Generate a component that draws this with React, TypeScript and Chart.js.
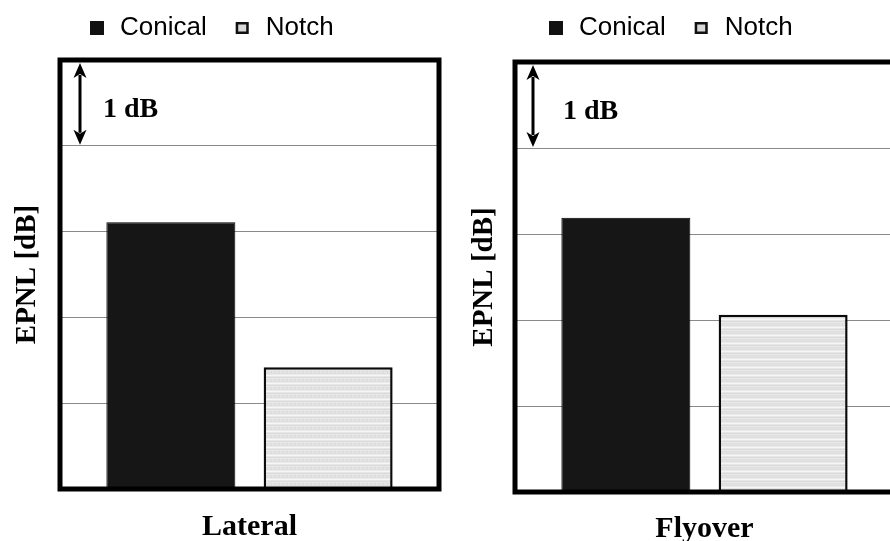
import React, { useEffect, useRef } from "react";
import { Chart, registerables } from "chart.js";

Chart.register(...registerables);

// Series and categories
const seriesNames = ["Conical", "Notch"];
const lateralLabels = ["Lateral"];
const flyoverLabels = ["Flyover"];
const lateralConical = [3.11];
const lateralNotch = [1.42];
const flyoverConical = [3.19];
const flyoverNotch = [2.06];

// Axis settings (relative EPNL, 1 dB per gridline)
const yAxisTitle = "EPNL [dB]";
const scaleNote = "1 dB";
const yMin = 0;
const yMax = 5;
const yStep = 1;

const SERIF = '"Liberation Serif", "Times New Roman", serif';
const SANS = '"Liberation Sans", Arial, sans-serif';

const CANVAS_W = 450;
const CANVAS_H = 566;

// Light grey screened fill with faint horizontal banding
function makeStripePattern(ctx: CanvasRenderingContext2D): CanvasPattern | string {
  const tile = document.createElement("canvas");
  tile.width = 4;
  tile.height = 8;
  const t = tile.getContext("2d");
  if (!t) return "#e2e2e2";
  const rows = ["#e6e6e6", "#dddddd", "#e8e8e8", "#dfdfdf", "#e7e7e7", "#dedede", "#ebebeb", "#f6f6f6"];
  rows.forEach((c, i) => {
    t.fillStyle = c;
    t.fillRect(0, i, 4, 1);
  });
  t.fillStyle = "#d6d6d6";
  t.fillRect(1, 1, 1, 1);
  t.fillRect(3, 4, 1, 1);
  return ctx.createPattern(tile, "repeat") || "#e2e2e2";
}

// Legend row drawn above the plot frame
const panelLegend = {
  id: "panelLegend",
  afterDraw(chart: any, _args: any, opts: any) {
    const ctx: CanvasRenderingContext2D = chart.ctx;
    ctx.save();
    ctx.font = `${opts.fontSize}px ${SANS}`;
    ctx.textBaseline = "middle";
    ctx.textAlign = "left";
    let x = opts.x;
    chart.data.datasets.forEach((ds: any, i: number) => {
      const s = opts.box;
      const top = opts.y - s / 2;
      if (i === 0) {
        ctx.fillStyle = "#111";
        ctx.fillRect(x, top, s, s);
      } else {
        ctx.fillStyle = "#d8d8d8";
        ctx.fillRect(x, top + 1, s - 1, s - 2);
        ctx.lineWidth = 2.5;
        ctx.strokeStyle = "#111";
        ctx.strokeRect(x + 1.25, top + 2.25, s - 3.5, s - 4.5);
      }
      x += s + opts.gap;
      ctx.fillStyle = "#000";
      ctx.fillText(ds.label, x, opts.y);
      x += ctx.measureText(ds.label).width + opts.itemGap;
    });
    ctx.restore();
  },
};

// Heavy frame around the plot area
const plotFrame = {
  id: "plotFrame",
  afterDatasetsDraw(chart: any) {
    const { ctx, chartArea } = chart;
    ctx.save();
    ctx.strokeStyle = "#000";
    ctx.lineWidth = 5;
    ctx.strokeRect(chartArea.left, chartArea.top, chartArea.right - chartArea.left, chartArea.bottom - chartArea.top);
    ctx.restore();
  },
};

// Double-headed arrow spanning one gridline step, with its label
const stepMarker = {
  id: "stepMarker",
  afterDraw(chart: any, _args: any, opts: any) {
    const { ctx, chartArea } = chart;
    const yScale = chart.scales.y;
    const yTop = yScale.getPixelForValue(yMax) + 3;
    const yBot = yScale.getPixelForValue(yMax - yStep) - 1;
    const x = chartArea.left + opts.dx;
    const head = 15;
    const half = 6.5;
    ctx.save();
    ctx.strokeStyle = "#000";
    ctx.fillStyle = "#000";
    ctx.lineWidth = 3;
    ctx.beginPath();
    ctx.moveTo(x, yTop + head - 3);
    ctx.lineTo(x, yBot - head + 3);
    ctx.stroke();
    ctx.beginPath();
    ctx.moveTo(x, yTop);
    ctx.lineTo(x - half, yTop + head);
    ctx.lineTo(x, yTop + head - 4);
    ctx.lineTo(x + half, yTop + head);
    ctx.closePath();
    ctx.fill();
    ctx.beginPath();
    ctx.moveTo(x, yBot);
    ctx.lineTo(x - half, yBot - head);
    ctx.lineTo(x, yBot - head + 4);
    ctx.lineTo(x + half, yBot - head);
    ctx.closePath();
    ctx.fill();
    ctx.font = `bold ${opts.fontSize}px ${SERIF}`;
    ctx.textBaseline = "middle";
    ctx.textAlign = "left";
    ctx.fillText(scaleNote, chartArea.left + opts.textDx, (yTop + yBot) / 2 + 6);
    ctx.restore();
  },
};

type PanelProps = {
  labels: string[];
  conical: number[];
  notch: number[];
  left: number;
  padTop: number;
  padLeft: number;
  padBottom: number;
  tickPad: number;
  titlePadTop: number;
  titlePadBottom: number;
  legendX: number;
  markDx: number;
  noteDx: number;
};

function Panel(p: PanelProps) {
  const ref = useRef<HTMLCanvasElement>(null);

  useEffect(() => {
    const canvas = ref.current;
    if (!canvas) return;
    const ctx = canvas.getContext("2d");
    if (!ctx) return;
    const screen = makeStripePattern(ctx);

    const chart = new Chart(canvas, {
      type: "bar",
      data: {
        labels: p.labels,
        datasets: [
          {
            label: seriesNames[0],
            data: p.conical,
            backgroundColor: "#161616",
            borderColor: "#000",
            borderWidth: 1,
            categoryPercentage: 0.83,
            barPercentage: 0.82,
          },
          {
            label: seriesNames[1],
            data: p.notch,
            backgroundColor: screen as any,
            borderColor: "#0a0a0a",
            borderWidth: 2.5,
            categoryPercentage: 0.83,
            barPercentage: 0.82,
          },
        ],
      },
      options: {
        responsive: false,
        animation: false,
        devicePixelRatio: 1,
        layout: { padding: { top: p.padTop, left: p.padLeft, right: 11, bottom: p.padBottom } },
        plugins: {
          legend: { display: false },
          tooltip: { enabled: false },
          panelLegend: { x: p.legendX, y: 28, box: 14, gap: 16, itemGap: 29, fontSize: 26 },
          stepMarker: { dx: p.markDx, textDx: p.noteDx, fontSize: 28 },
        } as any,
        scales: {
          x: {
            grid: { display: false, drawTicks: false },
            border: { display: false },
            ticks: {
              color: "#000",
              padding: p.tickPad,
              font: { family: SERIF, size: 30, weight: "bold", lineHeight: 1 },
            },
          },
          y: {
            min: yMin,
            max: yMax,
            ticks: { display: false, stepSize: yStep },
            grid: { color: "#8a8a8a", lineWidth: 1, drawTicks: false },
            border: { display: false },
            title: {
              display: true,
              text: yAxisTitle,
              color: "#000",
              font: { family: SERIF, size: 29, weight: "bold", lineHeight: 1.2 },
              padding: { top: p.titlePadTop, bottom: p.titlePadBottom },
            },
          },
        },
      },
      plugins: [plotFrame, stepMarker, panelLegend],
    });

    return () => chart.destroy();
  }, []);

  return (
    <canvas
      ref={ref}
      width={CANVAS_W}
      height={CANVAS_H}
      style={{ position: "absolute", left: p.left, top: 0, width: CANVAS_W, height: CANVAS_H }}
    />
  );
}

export default function App() {
  return (
    <div
      style={{
        position: "fixed",
        left: 0,
        top: 0,
        width: 890,
        height: 541,
        overflow: "hidden",
        background: "#fff",
      }}
    >
      <Panel
        labels={lateralLabels}
        conical={lateralConical}
        notch={lateralNotch}
        left={0}
        padTop={60}
        padLeft={7}
        padBottom={1}
        tickPad={23}
        titlePadTop={3}
        titlePadBottom={15.2}
        legendX={90}
        markDx={20}
        noteDx={43}
      />
      <Panel
        labels={flyoverLabels}
        conical={flyoverConical}
        notch={flyoverNotch}
        left={455}
        padTop={62}
        padLeft={9}
        padBottom={0}
        tickPad={22}
        titlePadTop={3}
        titlePadBottom={13.2}
        legendX={94}
        markDx={18}
        noteDx={48}
      />
    </div>
  );
}
